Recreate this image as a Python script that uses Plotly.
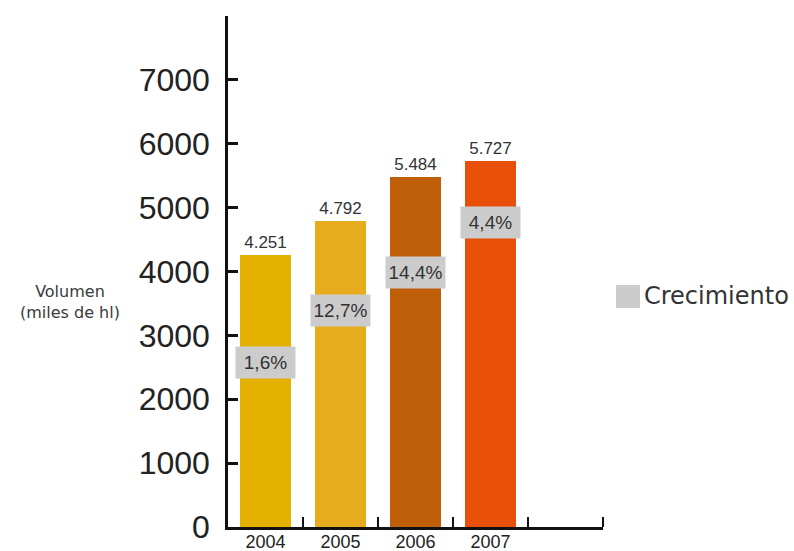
import plotly.graph_objects as go

# Beer volume by year (thousands of hl) and yearly growth
years = ["2004", "2005", "2006", "2007"]
volumen = [4251, 4792, 5484, 5727]
crecimiento = [1.6, 12.7, 14.4, 4.4]
bar_colors = ["#E4B000", "#E6AC1E", "#C05F0A", "#E84F08"]
y_tick_values = [0, 1000, 2000, 3000, 4000, 5000, 6000, 7000]

# vertical placement of the growth badges inside each bar
growth_label_y = [2575, 3390, 3985, 4775]

num_font = "Liberation Sans, Arial, sans-serif"
text_font = "DejaVu Sans, sans-serif"

slots = list(range(len(years)))
x_centers = [i + 0.5 for i in slots]
n_slots = len(years) + 1  # one empty slot on the right

fig = go.Figure()
fig.add_bar(
    x=x_centers,
    y=volumen,
    width=0.68,
    marker=dict(color=bar_colors, line=dict(width=0)),
    texttemplate="%{y:,.0f}",
    textposition="outside",
    textfont=dict(family=num_font, size=17, color="#333333"),
    constraintext="none",
    cliponaxis=False,
    showlegend=False,
)

for xc, g, gy in zip(x_centers, crecimiento, growth_label_y):
    fig.add_annotation(
        x=xc, y=gy, xref="x", yref="y",
        text=f"{g:.1f}".replace(".", ",") + "%",
        showarrow=False,
        bgcolor="#CCCCCC",
        width=55, height=27, borderpad=2,
        font=dict(family=num_font, size=19, color="#333333"),
    )

# y-axis caption
fig.add_annotation(
    xref="paper", yref="y", x=-0.421, y=3520,
    text="Volumen<br>(miles de hl)",
    xanchor="center", yanchor="middle", align="center",
    showarrow=False, font=dict(family=text_font, size=16, color="#3A3A3A"),
)

# legend entry for the growth badges
fig.add_shape(
    type="rect", xref="paper", yref="paper",
    x0=1.0347, x1=1.0987, y0=0.4286, y1=0.4736,
    fillcolor="#CCCCCC", line=dict(width=0),
)
fig.add_annotation(
    xref="paper", yref="paper", x=1.1047, y=0.452, xanchor="left", yanchor="middle",
    text="Crecimiento", showarrow=False,
    font=dict(family=text_font, size=24, color="#333333"),
)

axis_color = "#111111"
fig.update_layout(
    width=794, height=551,
    margin=dict(l=228, r=191, t=16, b=24),
    paper_bgcolor="white", plot_bgcolor="white",
    separators=",.",
    bargap=0,
    xaxis=dict(
        range=[0, n_slots], automargin=False,
        tickmode="array", tickvals=x_centers, ticktext=years,
        ticks="", showgrid=False, zeroline=False,
        showline=True, linewidth=2.5, linecolor=axis_color,
        tickfont=dict(family=num_font, size=18, color="#222222"),
        ticklabelstandoff=-3,
        minor=dict(
            tickmode="array", tickvals=[i + 1 for i in range(n_slots)],
            ticks="inside", ticklen=10, tickwidth=2, tickcolor=axis_color,
            showgrid=False,
        ),
    ),
    yaxis=dict(
        range=[0, 8000], automargin=False,
        tickmode="array", tickvals=y_tick_values,
        ticks="inside", ticklen=10, tickwidth=2.5, tickcolor=axis_color,
        showgrid=False, zeroline=False,
        showline=True, linewidth=2.5, linecolor=axis_color,
        tickfont=dict(family=num_font, size=32, color="#222222"),
        ticklabelstandoff=9,
        minor=dict(
            tickmode="array", tickvals=[8000],
            ticks="inside", ticklen=10, tickwidth=2.5, tickcolor=axis_color,
            showgrid=False,
        ),
    ),
)

fig.write_html("out.html")
